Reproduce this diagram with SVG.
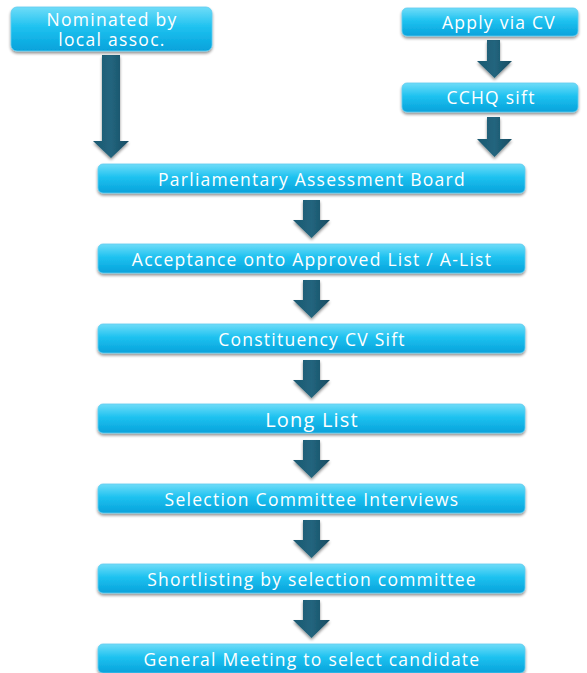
<svg xmlns="http://www.w3.org/2000/svg" width="587" height="673" viewBox="0 0 587 673">
  <defs>
    <linearGradient id="boxFill" x1="0" y1="0" x2="0" y2="1">
      <stop offset="0" stop-color="#6fdcf8"/>
      <stop offset="0.45" stop-color="#1fc2f0"/>
      <stop offset="1" stop-color="#05a2db"/>
    </linearGradient>
    <linearGradient id="arrowFill" x1="0" y1="0" x2="1" y2="0">
      <stop offset="0" stop-color="#1c5870"/>
      <stop offset="0.5" stop-color="#22657e"/>
      <stop offset="1" stop-color="#174b61"/>
    </linearGradient>
    <filter id="shadow" x="-10%" y="-30%" width="120%" height="170%">
      <feGaussianBlur in="SourceAlpha" stdDeviation="1.5"/>
      <feOffset dx="0" dy="2" result="b"/>
      <feComponentTransfer><feFuncA type="linear" slope="0.45"/></feComponentTransfer>
      <feMerge><feMergeNode/><feMergeNode in="SourceGraphic"/></feMerge>
    </filter>
  </defs>
  <style>
    .box { fill: url(#boxFill); stroke: #5fcdf0; stroke-width: 0.8; filter: url(#shadow); }
    .lbl { font-family: "Open Sans", "Liberation Sans", sans-serif; font-weight: 500; fill: #ffffff; text-anchor: middle; font-size: 17.5px; letter-spacing: 1.25px; }
    .arrow { fill: url(#arrowFill); filter: url(#shadow); }
  </style>
  <rect width="587" height="673" fill="#ffffff"/>

  <g id="connectors">
    <!-- long arrow from nomination down to the assessment board -->
    <path class="arrow" d="M102,55 H120 V141 H129 L111,158 L93,141 H102 Z"/>
    <!-- CV route -->
    <path class="arrow" d="M487,40 H500 V61 H512 L494.5,78 L477,61 H487 Z"/>
    <path class="arrow" d="M487,117 H500 V139 H512 L494.5,157 L477,139 H487 Z"/>
    <!-- main column arrows -->
    <path class="arrow" d="M303,200 H320 V220 H330 L311.5,238 L293,220 H303 Z"/>
    <path class="arrow" d="M303,280 H320 V300 H330 L311.5,318 L293,300 H303 Z"/>
    <path class="arrow" d="M303,360 H320 V380 H330 L311.5,398 L293,380 H303 Z"/>
    <path class="arrow" d="M303,440 H320 V460 H330 L311.5,478 L293,460 H303 Z"/>
    <path class="arrow" d="M303,520 H320 V540 H330 L311.5,558 L293,540 H303 Z"/>
    <path class="arrow" d="M303,600 H320 V620 H330 L311.5,638 L293,620 H303 Z"/>
  </g>

  <g id="nominated">
    <rect class="box" x="11" y="7" width="201" height="44" rx="6"/>
    <text class="lbl" style="font-size:17.5px;letter-spacing:1.3px"><tspan x="112" y="25.5">Nominated by</tspan><tspan x="112" y="46">local assoc.</tspan></text>
  </g>
  <g id="apply">
    <rect class="box" x="402" y="8" width="176" height="28" rx="5"/>
    <text class="lbl" x="499" y="28.5">Apply via CV</text>
  </g>
  <g id="cchq">
    <rect class="box" x="402" y="83" width="176" height="29" rx="5"/>
    <text class="lbl" x="491" y="104">CCHQ sift</text>
  </g>
  <g id="pab">
    <rect class="box" x="98" y="164" width="427" height="29" rx="5"/>
    <text class="lbl" x="312" y="186">Parliamentary Assessment Board</text>
  </g>
  <g id="acceptance">
    <rect class="box" x="98" y="244" width="427" height="29" rx="5"/>
    <text class="lbl" x="312" y="266">Acceptance onto Approved List / A-List</text>
  </g>
  <g id="cv-sift">
    <rect class="box" x="98" y="324" width="427" height="29" rx="5"/>
    <text class="lbl" x="312" y="346">Constituency CV Sift</text>
  </g>
  <g id="long-list">
    <rect class="box" x="98" y="404" width="427" height="29" rx="5"/>
    <text class="lbl" x="312" y="427" style="font-size:20px;letter-spacing:1.2px">Long List</text>
  </g>
  <g id="interviews">
    <rect class="box" x="98" y="484" width="427" height="29" rx="5"/>
    <text class="lbl" x="312" y="506">Selection Committee Interviews</text>
  </g>
  <g id="shortlisting">
    <rect class="box" x="98" y="564" width="427" height="29" rx="5"/>
    <text class="lbl" x="312" y="586">Shortlisting by selection committee</text>
  </g>
  <g id="general-meeting">
    <rect class="box" x="98" y="644" width="427" height="29" rx="5"/>
    <text class="lbl" x="312" y="666">General Meeting to select candidate</text>
  </g>
</svg>
